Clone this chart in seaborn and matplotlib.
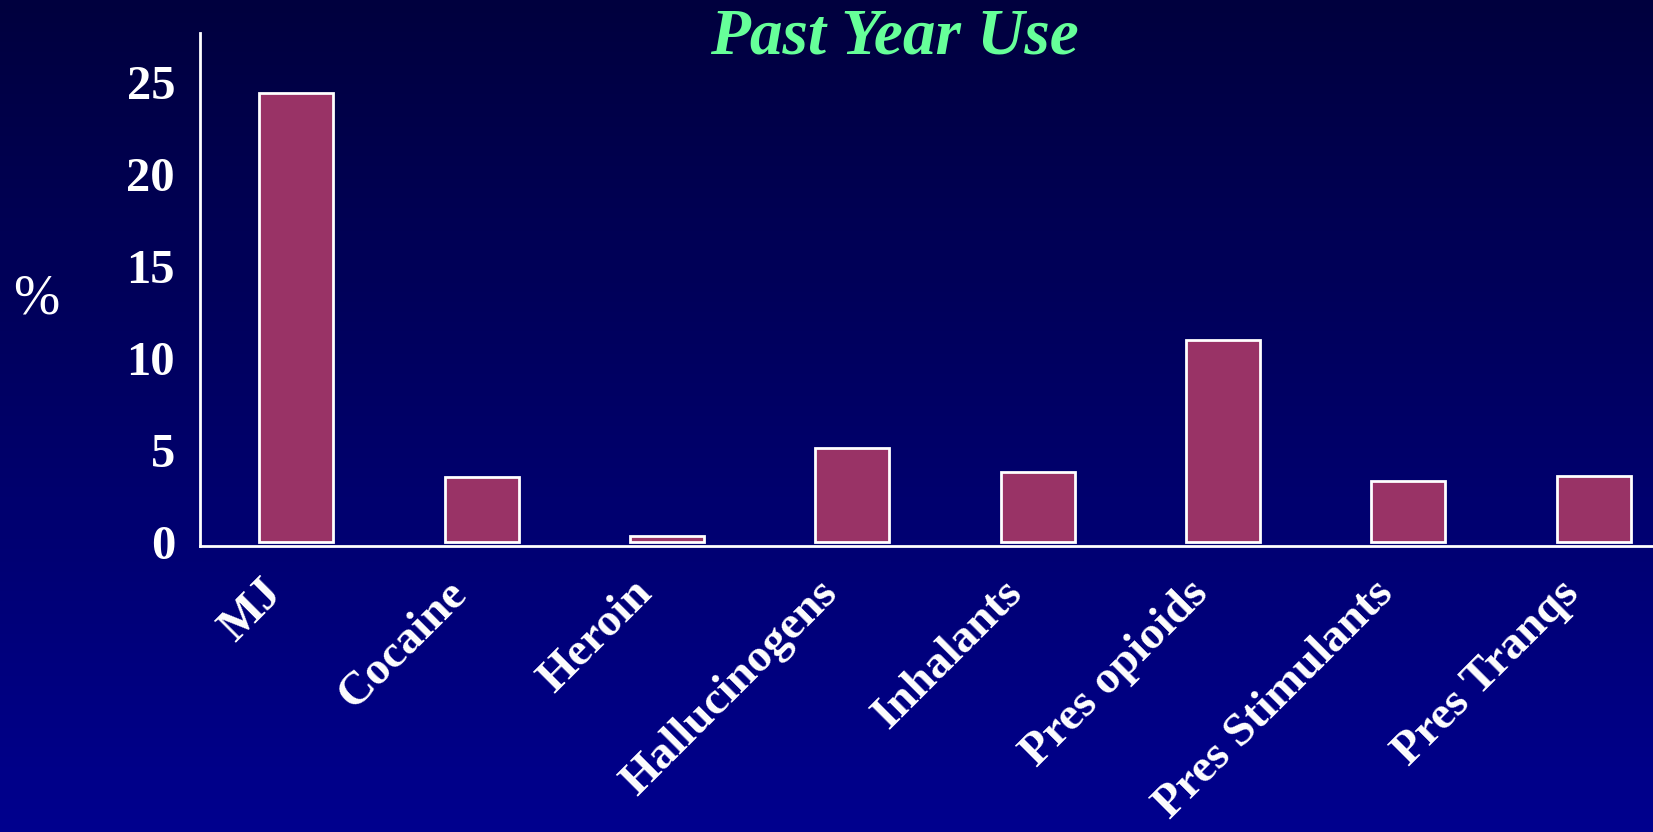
import numpy as np
import pandas as pd
import seaborn as sns
import matplotlib.pyplot as plt
import matplotlib.transforms as mtransforms
from matplotlib.colors import LinearSegmentedColormap

# values (percent, past year use)
drugs = ["MJ", "Cocaine", "Heroin", "Hallucinogens", "Inhalants",
         "Pres opioids", "Pres Stimulants", "Pres Tranqs"]
pct = [24.4, 3.5, 0.3, 5.1, 3.8, 11.0, 3.3, 3.6]
yticks = [0, 5, 10, 15, 20, 25]

df = pd.DataFrame({"drug": drugs, "pct": pct})

sns.set_style("white")
plt.rcParams["font.family"] = ["Liberation Serif", "DejaVu Serif"]

fig = plt.figure(figsize=(16.53, 8.32), dpi=100)

# navy gradient background
bg = fig.add_axes([0, 0, 1, 1], zorder=0)
grad = np.linspace(0, 1, 256).reshape(-1, 1)
cmap = LinearSegmentedColormap.from_list("navy", ["#00003e", "#00008e"])
bg.imshow(grad, aspect="auto", cmap=cmap, extent=[0, 1, 0, 1])
bg.set_axis_off()

ax = fig.add_axes([0.121, 0.344, 0.879, 0.616], zorder=1)
ax.patch.set_alpha(0)

sns.barplot(data=df, x="drug", y="pct", color="#993366", saturation=1,
            edgecolor="white", linewidth=2, width=0.4, ax=ax)

ax.set_xlim(-0.52, 7.32)
ax.set_ylim(-0.22, 27.66)
ax.set_yticks(yticks)
ax.set_yticklabels([str(t) for t in yticks], fontsize=35, fontweight="bold",
                   color="white")
ax.set_xticks(range(len(drugs)))
ax.set_xticklabels(drugs, rotation=45, ha="right", rotation_mode="anchor",
                   fontsize=34, fontweight="bold", color="white")
ax.tick_params(axis="both", length=0)
ax.tick_params(axis="y", pad=18)
ax.tick_params(axis="x", pad=22)

# shift the rotated labels a bit left like the slide
shift = mtransforms.ScaledTranslation(-36 / 100, 4 / 100, fig.dpi_scale_trans)
for lbl in ax.get_xticklabels():
    lbl.set_transform(lbl.get_transform() + shift)

ax.set_xlabel("")
ax.set_ylabel("")
for s in ["top", "right"]:
    ax.spines[s].set_visible(False)
for s in ["left", "bottom"]:
    ax.spines[s].set_color("white")
    ax.spines[s].set_linewidth(2)

fig.text(0.022, 0.64, "%", fontsize=40, color="white", ha="center", va="center")
fig.text(0.541, 0.955, "Past Year Use", fontsize=47, fontweight="bold",
         fontstyle="italic", color="#66ff99", ha="center", va="center")

fig.savefig("out.png", dpi=100)
